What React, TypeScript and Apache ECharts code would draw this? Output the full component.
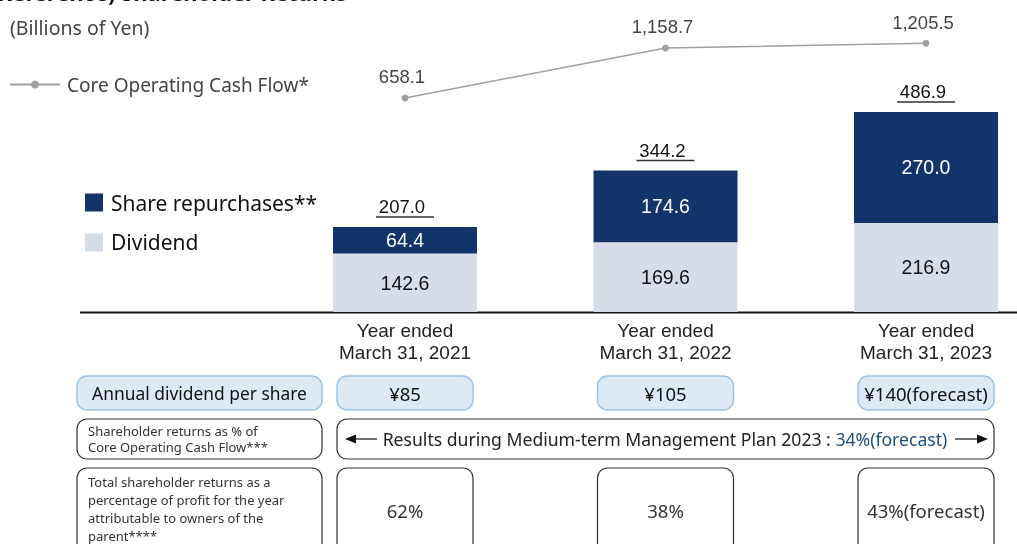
import React, { useEffect, useRef } from "react";
import * as echarts from "echarts";

const years = ["Year ended\nMarch 31, 2021", "Year ended\nMarch 31, 2022", "Year ended\nMarch 31, 2023"];
const dividend = [142.6, 169.6, 216.9];
const repurchases = [64.4, 174.6, 270.0];
const totals = [207.0, 344.2, 486.9];
const coreCashFlow = [658.1, 1158.7, 1205.5];
const dividendPerShare = ["¥85", "¥105", "¥140(forecast)"];
const payoutRatio = ["62%", "38%", "43%(forecast)"];

const DARK = "#13336B";
const LIGHT = "#D6DCE8";
const NUM_FONT = '"Liberation Sans", Arial, sans-serif';
const JP_FONT = '"Noto Sans", "Noto Sans CJK JP", sans-serif';

const fmt1 = (v: number) =>
  v.toLocaleString("en-US", { minimumFractionDigits: 1, maximumFractionDigits: 1 });

const colCenters = [405, 665.5, 926];

export default function App() {
  const ref = useRef<HTMLDivElement>(null);
  useEffect(() => {
    if (!ref.current) return;
    const chart = echarts.init(ref.current, null, { renderer: "svg" });

    const graphics: any[] = [];
    graphics.push({
      type: "text",
      left: -10,
      top: -19,
      style: { text: "(Reference) Shareholder Returns", font: "bold 22px " + JP_FONT, fill: "#111" },
    });
    graphics.push({
      type: "text",
      x: 10,
      y: 27,
      style: { text: "(Billions of Yen)", font: "19.5px " + JP_FONT, fill: "#444", verticalAlign: "middle" },
    });
    graphics.push({
      type: "line",
      shape: { x1: 80, y1: 312.5, x2: 1017, y2: 312.5 },
      style: { stroke: "#111", lineWidth: 2 },
    });
    const rowBox = (x: number, y: number, w: number, h: number, blue: boolean) => ({
      type: "rect",
      shape: { x, y, width: w, height: h, r: 10 },
      style: blue
        ? { fill: "#DDEAF6", stroke: "#9DC3E6", lineWidth: 1.5 }
        : { fill: "#fff", stroke: "#333", lineWidth: 1.2 },
    });
    const ctext = (x: number, y: number, text: string, size: number, color = "#111") => ({
      type: "text",
      x,
      y,
      style: { text, font: size + "px " + JP_FONT, fill: color, align: "center", verticalAlign: "middle" },
    });
    const ltext = (x: number, y: number, text: string, size: number) => ({
      type: "text",
      x,
      y,
      style: { text, font: size + "px " + JP_FONT, fill: "#333", align: "left", verticalAlign: "middle" },
    });
    // Row 1
    graphics.push(rowBox(77, 376, 245, 34, true));
    graphics.push(ctext(199.5, 393, "Annual dividend per share", 17.4));
    dividendPerShare.forEach((t, i) => {
      graphics.push(rowBox(colCenters[i] - 68, 376, 136, 34, true));
      graphics.push(ctext(colCenters[i], 393, t, 18.5));
    });
    // Row 2
    graphics.push(rowBox(77, 419, 245, 40, false));
    graphics.push(ltext(88, 431, "Shareholder returns as % of", 13));
    graphics.push(ltext(88, 447, "Core Operating Cash Flow***", 13));
    graphics.push(rowBox(337, 419, 657, 40, false));
    graphics.push({
      type: "text",
      x: 665,
      y: 439,
      style: {
        text: "Results during Medium-term Management Plan 2023 : {b|34%(forecast)}",
        font: "17.6px " + JP_FONT,
        fill: "#222",
        align: "center",
        verticalAlign: "middle",
        rich: { b: { fill: "#1F4E79", font: "17.6px " + JP_FONT } },
      },
    });
    graphics.push({ type: "line", shape: { x1: 352, y1: 439, x2: 377, y2: 439 }, style: { stroke: "#222", lineWidth: 1.3 } });
    graphics.push({ type: "polygon", shape: { points: [[345, 439], [356, 434.5], [356, 443.5]] }, style: { fill: "#111" } });
    graphics.push({ type: "line", shape: { x1: 955, y1: 439, x2: 980, y2: 439 }, style: { stroke: "#222", lineWidth: 1.3 } });
    graphics.push({ type: "polygon", shape: { points: [[988, 439], [977, 434.5], [977, 443.5]] }, style: { fill: "#111" } });
    // Row 3
    graphics.push(rowBox(77, 468, 245, 90, false));
    graphics.push(ltext(88, 482, "Total shareholder returns as a", 13));
    graphics.push(ltext(88, 500, "percentage of profit for the year", 13));
    graphics.push(ltext(88, 518, "attributable to owners of the", 13));
    graphics.push(ltext(88, 536, "parent****", 13));
    payoutRatio.forEach((t, i) => {
      graphics.push(rowBox(colCenters[i] - 68, 468, 136, 90, false));
      graphics.push(ctext(colCenters[i], 510, t, 18.5, "#333"));
    });

    chart.setOption({
      animation: false,
      grid: { left: 405, right: 91, top: 10, bottom: 232 },
      legend: [
        {
          data: ["Core Operating Cash Flow*"],
          left: 9,
          top: 75,
          padding: 0,
          itemWidth: 50,
          itemHeight: 10,
          textStyle: { fontSize: 19, fontFamily: JP_FONT, color: "#444", padding: [0, 0, 0, 2] },
          selectedMode: false,
        },
        {
          data: ["Share repurchases**", "Dividend"],
          orient: "vertical",
          left: 85,
          top: 192,
          padding: 0,
          itemWidth: 18,
          itemHeight: 18,
          itemGap: 19,
          icon: "rect",
          textStyle: { fontSize: 21, fontFamily: JP_FONT, color: "#111", padding: [0, 0, 0, 3] },
          selectedMode: false,
        },
      ],
      xAxis: {
        type: "category",
        data: years,
        boundaryGap: false,
        axisLine: { show: false },
        axisTick: { show: false },
        axisLabel: { fontSize: 19, lineHeight: 22, color: "#222", fontFamily: NUM_FONT, margin: 7 },
      },
      yAxis: [
        { type: "value", min: 0, max: 735, show: false, splitLine: { show: false } },
        { type: "value", min: -1482, max: 1538, show: false, splitLine: { show: false } },
      ],
      series: [
        {
          name: "Dividend",
          type: "bar",
          stack: "r",
          data: dividend,
          barWidth: 144,
          itemStyle: { color: LIGHT },
          label: {
            show: true,
            position: "inside",
            color: "#111",
            fontSize: 19.5,
            fontFamily: NUM_FONT,
            formatter: (p: any) => fmt1(p.value),
          },
        },
        {
          name: "Share repurchases**",
          type: "bar",
          stack: "r",
          data: repurchases,
          barWidth: 144,
          itemStyle: { color: DARK },
          label: {
            show: true,
            position: "inside",
            color: "#fff",
            fontSize: 19.5,
            fontFamily: NUM_FONT,
            formatter: (p: any) => fmt1(p.value),
          },
        },
        {
          type: "custom",
          data: totals.map((v, i) => [i, v]),
          z: 5,
          renderItem: (params: any, api: any) => {
            const p = api.coord([api.value(0), api.value(1)]);
            return {
              type: "group",
              children: [
                {
                  type: "text",
                  x: p[0] - 3,
                  y: p[1] - 20,
                  style: {
                    text: fmt1(api.value(1)),
                    font: "18.5px " + NUM_FONT,
                    fill: "#111",
                    align: "center",
                    verticalAlign: "middle",
                  },
                },
                {
                  type: "line",
                  shape: { x1: p[0] - 29, y1: p[1] - 10, x2: p[0] + 29, y2: p[1] - 10 },
                  style: { stroke: "#333", lineWidth: 1.5 },
                },
              ],
            };
          },
        },
        {
          name: "Core Operating Cash Flow*",
          type: "line",
          yAxisIndex: 1,
          data: coreCashFlow,
          symbol: "circle",
          symbolSize: 7,
          color: "#A0A0A0",
          lineStyle: { color: "#A0A0A0", width: 1.5 },
          itemStyle: { color: "#A0A0A0" },
          label: {
            show: true,
            position: "top",
            distance: 8,
            offset: [-3, 0],
            color: "#444",
            fontSize: 18.5,
            fontFamily: NUM_FONT,
            formatter: (p: any) => fmt1(p.value),
          },
        },
      ],
      graphic: graphics,
    });
    return () => chart.dispose();
  }, []);
  return <div ref={ref} style={{ position: "fixed", left: 0, top: 0, width: 1017, height: 544 }} />;
}
